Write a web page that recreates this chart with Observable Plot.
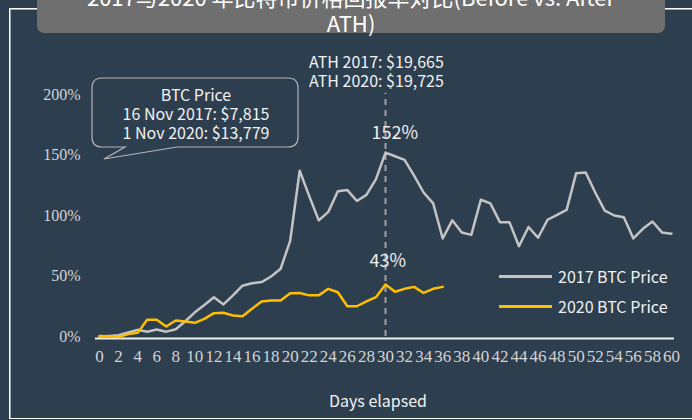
<!DOCTYPE html>
<html><head><meta charset="utf-8">
<script src="https://cdn.jsdelivr.net/npm/d3@7"></script>
<script src="https://cdn.jsdelivr.net/npm/@observablehq/plot@0.6"></script>
<style>
html,body{margin:0;padding:0;}
body{width:692px;height:420px;background:#2d3e4f;position:relative;overflow:hidden;font-family:"Noto Sans CJK SC","Noto Sans",sans-serif;color:#f2f2f2;}
#frame{position:absolute;left:9px;top:8px;width:720px;height:409px;border-left:1px solid #fff;border-top:1px solid #fff;border-bottom:1px solid #fff;box-shadow:inset 1px 1px 0 #9aa6b2;}
#titlebox{position:absolute;left:37px;top:-20px;width:628px;height:53px;background:#6f6f6f;border-radius:7px;}
#title{position:absolute;left:37px;width:628px;top:-17px;text-align:center;font-size:22px;line-height:26px;color:#fff;white-space:nowrap;}
#chart{position:absolute;left:0;top:0;}
.lt{position:absolute;font-size:16px;line-height:16px;color:#f2f2f2;white-space:nowrap;}
.lg{position:absolute;height:3px;width:53px;}
#overlay{position:absolute;left:0;top:0;}
</style>
</head><body>
<div id="frame"></div>
<div id="chart"></div>
<svg id="overlay" width="692" height="420"></svg>
<div id="titlebox"></div>
<div id="title"></div>
<div id="legend"></div>
<div id="ann"></div>
<div class="lt" id="xlabel"></div>
<script>
// ---- data ----
const titleLines = ["2017与2020 年比特币价格回报率对比(Before vs. After", "ATH)"];
const xLabel = "Days elapsed";
const seriesNames = ["2017 BTC Price", "2020 BTC Price"];
const seriesColors = ["#c4c4c4", "#ffbf00"];
const days2017 = [0,1,2,3,4,5,6,7,8,9,10,11,12,13,14,15,16,17,18,19,20,21,22,23,24,25,26,27,28,29,30,31,32,33,34,35,36,37,38,39,40,41,42,43,44,45,46,47,48,49,50,51,52,53,54,55,56,57,58,59,60];
const btc2017 = [0,0.5,1,3.3,5.5,4,5.8,4,6,12.6,20,26,32.5,26.5,34,42,44,45,49.6,56,79,137,116,96,103,120,121,112,117,130,152,149,146,133,119,110,81,96,86,84,113,110,94.5,94.5,74.6,90.5,81.6,96.5,100.6,104.7,135,135.5,119,104,100,98.6,81,89,95,86,85];
const days2020 = [0,1,2,3,4,5,6,7,8,9,10,11,12,13,14,15,16,17,18,19,20,21,22,23,24,25,26,27,28,29,30,31,32,33,34,35,36];
const btc2020 = [0.5,0.2,-0.5,2,3,13.8,13.8,8.3,13.2,12.4,11.3,14.6,19.3,19.6,17.4,16.8,22.9,29,29.8,29.8,35.8,36,34,34,39.4,36.6,25,25,29,32.5,43,37,39.4,41,36,39.4,41];
const xTicks = [0,2,4,6,8,10,12,14,16,18,20,22,24,26,28,30,32,34,36,38,40,42,44,46,48,50,52,54,56,58,60];
const yTicks = [0,50,100,150,200];
const athDay = 30;
const athPeak2017 = 152;
const athPeak2020 = 43;
const calloutLines = ["BTC Price", "16 Nov 2017: $7,815", "1 Nov 2020: $13,779"];
const athLines = ["ATH 2017: $19,665", "ATH 2020: $19,725"];

// ---- chart ----
const rows17 = days2017.map((d,i)=>({day:d, value:btc2017[i]}));
const rows20 = days2020.map((d,i)=>({day:d, value:btc2020[i]}));
const sans = '"Noto Sans CJK SC","Noto Sans",sans-serif';

const chart = Plot.plot({
  width:692, height:420,
  marginLeft:99, marginRight:21, marginTop:94, marginBottom:84,
  x:{domain:[0,60]},
  y:{domain:[0,200]},
  style:{background:"transparent", color:"#d4d4d4", fontFamily:"'Liberation Serif',serif", fontSize:"16px", overflow:"visible"},
  marks:[
    Plot.axisY({ticks:yTicks, tickFormat:d=>d+"%", tickSize:0, tickPadding:19, label:null, fontSize:16}),
    Plot.axisX({ticks:xTicks, tickSize:0, tickPadding:13, label:null, fontSize:17}),
    Plot.ruleX([athDay], {y1:0, y2:201, stroke:"#a0a0a0", strokeWidth:2, strokeDasharray:"6,5"}),
    Plot.ruleY([0], {stroke:"#f0f0f0", strokeWidth:2, dy:2, insetLeft:-4, insetRight:-3}),
    Plot.line(rows17, {x:"day", y:"value", stroke:seriesColors[0], strokeWidth:2.5}),
    Plot.line(rows20, {x:"day", y:"value", stroke:seriesColors[1], strokeWidth:2.5}),
    Plot.text([{x:athDay, y:athPeak2017}], {x:"x", y:"y", text:d=>d.y+"%", dx:-14, dy:-19, textAnchor:"start", fontSize:18, fill:"#eeeeee", fontFamily:sans}),
    Plot.text([{x:athDay, y:athPeak2020}], {x:"x", y:"y", text:d=>d.y+"%", dx:-16, dy:-23, textAnchor:"start", fontSize:18, fill:"#eeeeee", fontFamily:sans})
  ]
});
document.getElementById("chart").appendChild(chart);

// ---- title ----
document.getElementById("title").innerHTML = titleLines.join("<br>");

// ---- legend ----
const legend = document.getElementById("legend");
seriesNames.forEach((n,i)=>{
  const cy = 276 + i*30;
  const l = document.createElement("div");
  l.className = "lg"; l.style.left = "499px"; l.style.top = (cy-1.5)+"px"; l.style.background = seriesColors[i];
  legend.appendChild(l);
  const t = document.createElement("div");
  t.className = "lt"; t.style.left = "558px"; t.style.top = (cy-8)+"px"; t.textContent = n;
  legend.appendChild(t);
});

// ---- x label ----
const xl = document.getElementById("xlabel");
xl.textContent = xLabel; xl.style.left = "322px"; xl.style.top = "392px"; xl.style.width="112px"; xl.style.textAlign="center";

// ---- callout ----
const ov = d3.select("#overlay");
ov.append("path")
  .attr("d","M102 78 H288 Q298 78 298 88 V137 Q298 147 288 147 H177 L104 159 L125 147 H102 Q92 147 92 137 V88 Q92 78 102 78 Z")
  .attr("fill","none").attr("stroke","#b4b4b4").attr("stroke-width",1.2);
const ann = document.getElementById("ann");
calloutLines.forEach((s,i)=>{
  const t = document.createElement("div");
  t.className = "lt"; t.style.left = "92px"; t.style.width = "208px"; t.style.textAlign = "center";
  t.style.top = (94 + i*18.8 - 8)+"px"; t.textContent = s;
  ann.appendChild(t);
});
athLines.forEach((s,i)=>{
  const t = document.createElement("div");
  t.className = "lt"; t.style.left = "309px";
  t.style.top = (61 + i*19.3 - 8)+"px"; t.textContent = s;
  ann.appendChild(t);
});
</script>
</body></html>
